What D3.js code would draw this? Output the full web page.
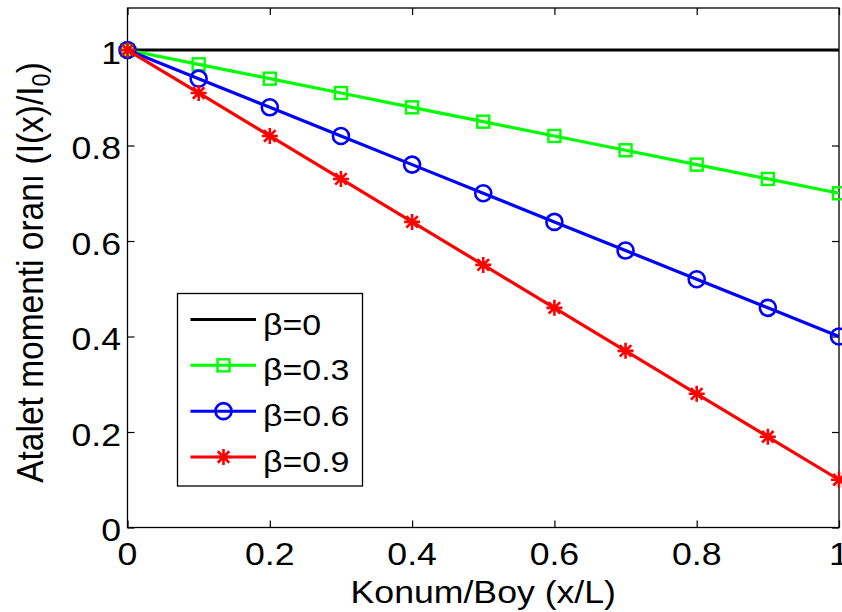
<!DOCTYPE html>
<html>
<head>
<meta charset="utf-8">
<script src="https://cdn.jsdelivr.net/npm/d3@7"></script>
<style>
  html, body { margin: 0; padding: 0; background: #fff; }
  svg { display: block; }
  text { font-family: "Liberation Sans", Arial, Helvetica, sans-serif; fill: #000; }
</style>
</head>
<body>
<svg id="chart" width="842" height="612"></svg>
<script>
// Moment of inertia ratio along the beam for several taper ratios
const positions = [0, 0.1, 0.2, 0.3, 0.4, 0.5, 0.6, 0.7, 0.8, 0.9, 1];
const beta0  = [1, 1, 1, 1, 1, 1, 1, 1, 1, 1, 1];
const beta03 = [1, 0.97, 0.94, 0.91, 0.88, 0.85, 0.82, 0.79, 0.76, 0.73, 0.70];
const beta06 = [1, 0.94, 0.88, 0.82, 0.76, 0.70, 0.64, 0.58, 0.52, 0.46, 0.40];
const beta09 = [1, 0.91, 0.82, 0.73, 0.64, 0.55, 0.46, 0.37, 0.28, 0.19, 0.10];

const seriesNames = ["β=0", "β=0.3", "β=0.6", "β=0.9"];
const xTicks = [0, 0.2, 0.4, 0.6, 0.8, 1];
const yTicks = [0, 0.2, 0.4, 0.6, 0.8, 1];
const xTickLabels = ["0", "0.2", "0.4", "0.6", "0.8", "1"];
const yTickLabels = ["0", "0.2", "0.4", "0.6", "0.8", "1"];
const xTitle = "Konum/Boy (x/L)";
const yTitleMain = "Atalet momenti oranı (I(x)/I";
const yTitleSub = "0";
const yTitleEnd = ")";

const series = [
  { name: seriesNames[0], values: beta0,  color: "#000000", marker: "none" },
  { name: seriesNames[1], values: beta03, color: "#00ff00", marker: "square" },
  { name: seriesNames[2], values: beta06, color: "#0000ff", marker: "circle" },
  { name: seriesNames[3], values: beta09, color: "#ff0000", marker: "star" }
];

const svg = d3.select("#chart");
const plot = { left: 127.5, right: 839, top: 8, bottom: 527.5 };
const yMax = 1.088;
const stretch = 1.15;     // glyphs are drawn slightly wide
const axisFont = 31, legendFont = 29.5, yTitleFont = 33.5;

const x = d3.scaleLinear().domain([0, 1]).range([plot.left, plot.right]);
const y = d3.scaleLinear().domain([0, yMax]).range([plot.bottom, plot.top]);

// tick marks pointing inward on all four sides
const tickLen = 7;
svg.append("g").attr("transform", `translate(0,${plot.bottom})`)
  .call(d3.axisBottom(x).tickValues(xTicks).tickSize(-tickLen).tickFormat(""))
  .call(g => g.select(".domain").remove());
svg.append("g").attr("transform", `translate(0,${plot.top})`)
  .call(d3.axisTop(x).tickValues(xTicks).tickSize(-tickLen).tickFormat(""))
  .call(g => g.select(".domain").remove());
svg.append("g").attr("transform", `translate(${plot.left},0)`)
  .call(d3.axisLeft(y).tickValues(yTicks).tickSize(-tickLen).tickFormat(""))
  .call(g => g.select(".domain").remove());
svg.append("g").attr("transform", `translate(${plot.right},0)`)
  .call(d3.axisRight(y).tickValues(yTicks).tickSize(-tickLen).tickFormat(""))
  .call(g => g.select(".domain").remove());
svg.selectAll(".tick line").attr("stroke", "#000").attr("stroke-width", 1.2);

svg.append("rect")
  .attr("x", plot.left).attr("y", plot.top)
  .attr("width", plot.right - plot.left).attr("height", plot.bottom - plot.top)
  .attr("fill", "none").attr("stroke", "#000").attr("stroke-width", 1.3);

// tick labels
svg.append("g").selectAll("text").data(xTicks).join("text")
  .attr("text-anchor", "middle")
  .attr("font-size", axisFont)
  .attr("transform", d => `translate(${x(d)},564.5) scale(${stretch},1)`)
  .text((d, i) => xTickLabels[i]);

svg.append("g").selectAll("text").data(yTicks).join("text")
  .attr("text-anchor", "end")
  .attr("font-size", axisFont)
  .attr("transform", d => `translate(121,${y(d) + 13.5}) scale(${stretch},1)`)
  .text((d, i) => yTickLabels[i]);

// axis titles
svg.append("text")
  .attr("text-anchor", "middle")
  .attr("font-size", axisFont)
  .attr("transform", `translate(${(plot.left + plot.right) / 2},602.5) scale(${stretch},1)`)
  .text(xTitle);

const yt = svg.append("text")
  .attr("text-anchor", "middle")
  .attr("font-size", yTitleFont)
  .attr("transform", `translate(43,272.5) rotate(-90) scale(1,1.1)`);
yt.append("tspan").text(yTitleMain);
yt.append("tspan").attr("font-size", yTitleFont * 0.7).attr("dy", 6.5).text(yTitleSub);
yt.append("tspan").attr("dy", -6.5).text(yTitleEnd);

// marker drawing
function drawMarker(g, type, color) {
  if (type === "square") {
    g.append("rect").attr("x", -6).attr("y", -6).attr("width", 12).attr("height", 12)
      .attr("fill", "none").attr("stroke", color).attr("stroke-width", 2.4);
  } else if (type === "circle") {
    g.append("circle").attr("r", 8).attr("fill", "none")
      .attr("stroke", color).attr("stroke-width", 2.6);
  } else if (type === "star") {
    const r = 8, d = r * 0.72;
    const p = d3.path();
    p.moveTo(-r, 0); p.lineTo(r, 0);
    p.moveTo(0, -r); p.lineTo(0, r);
    p.moveTo(-d, -d); p.lineTo(d, d);
    p.moveTo(-d, d); p.lineTo(d, -d);
    g.append("path").attr("d", p.toString()).attr("fill", "none")
      .attr("stroke", color).attr("stroke-width", 2.6);
  }
}

const line = d3.line().x(d => x(d[0])).y(d => y(d[1]));

series.forEach(s => {
  const pts = positions.map((p, i) => [p, s.values[i]]);
  const g = svg.append("g");
  g.append("path").attr("d", line(pts)).attr("fill", "none")
    .attr("stroke", s.color).attr("stroke-width", 3.2);
  if (s.marker !== "none") {
    pts.forEach(pt => {
      const mg = g.append("g").attr("transform", `translate(${x(pt[0])},${y(pt[1])})`);
      drawMarker(mg, s.marker, s.color);
    });
  }
});

// legend
const legend = { x0: 177.5, y0: 293.5, x1: 362.5, y1: 486 };
const lg = svg.append("g");
lg.append("rect")
  .attr("x", legend.x0).attr("y", legend.y0)
  .attr("width", legend.x1 - legend.x0).attr("height", legend.y1 - legend.y0)
  .attr("fill", "#fff").attr("stroke", "#000").attr("stroke-width", 1.3);
const rowY = d3.scaleLinear().domain([0, 3]).range([319.5, 457]);
series.forEach((s, i) => {
  const ly = rowY(i);
  lg.append("line").attr("x1", 190.5).attr("x2", 256).attr("y1", ly).attr("y2", ly)
    .attr("stroke", s.color).attr("stroke-width", 3);
  if (s.marker !== "none") {
    const mg = lg.append("g").attr("transform", `translate(223.5,${ly})`);
    drawMarker(mg, s.marker, s.color);
  }
  lg.append("text")
    .attr("font-size", legendFont)
    .attr("transform", `translate(263,${ly + 15}) scale(${stretch},1)`)
    .text(s.name);
});
</script>
</body>
</html>
